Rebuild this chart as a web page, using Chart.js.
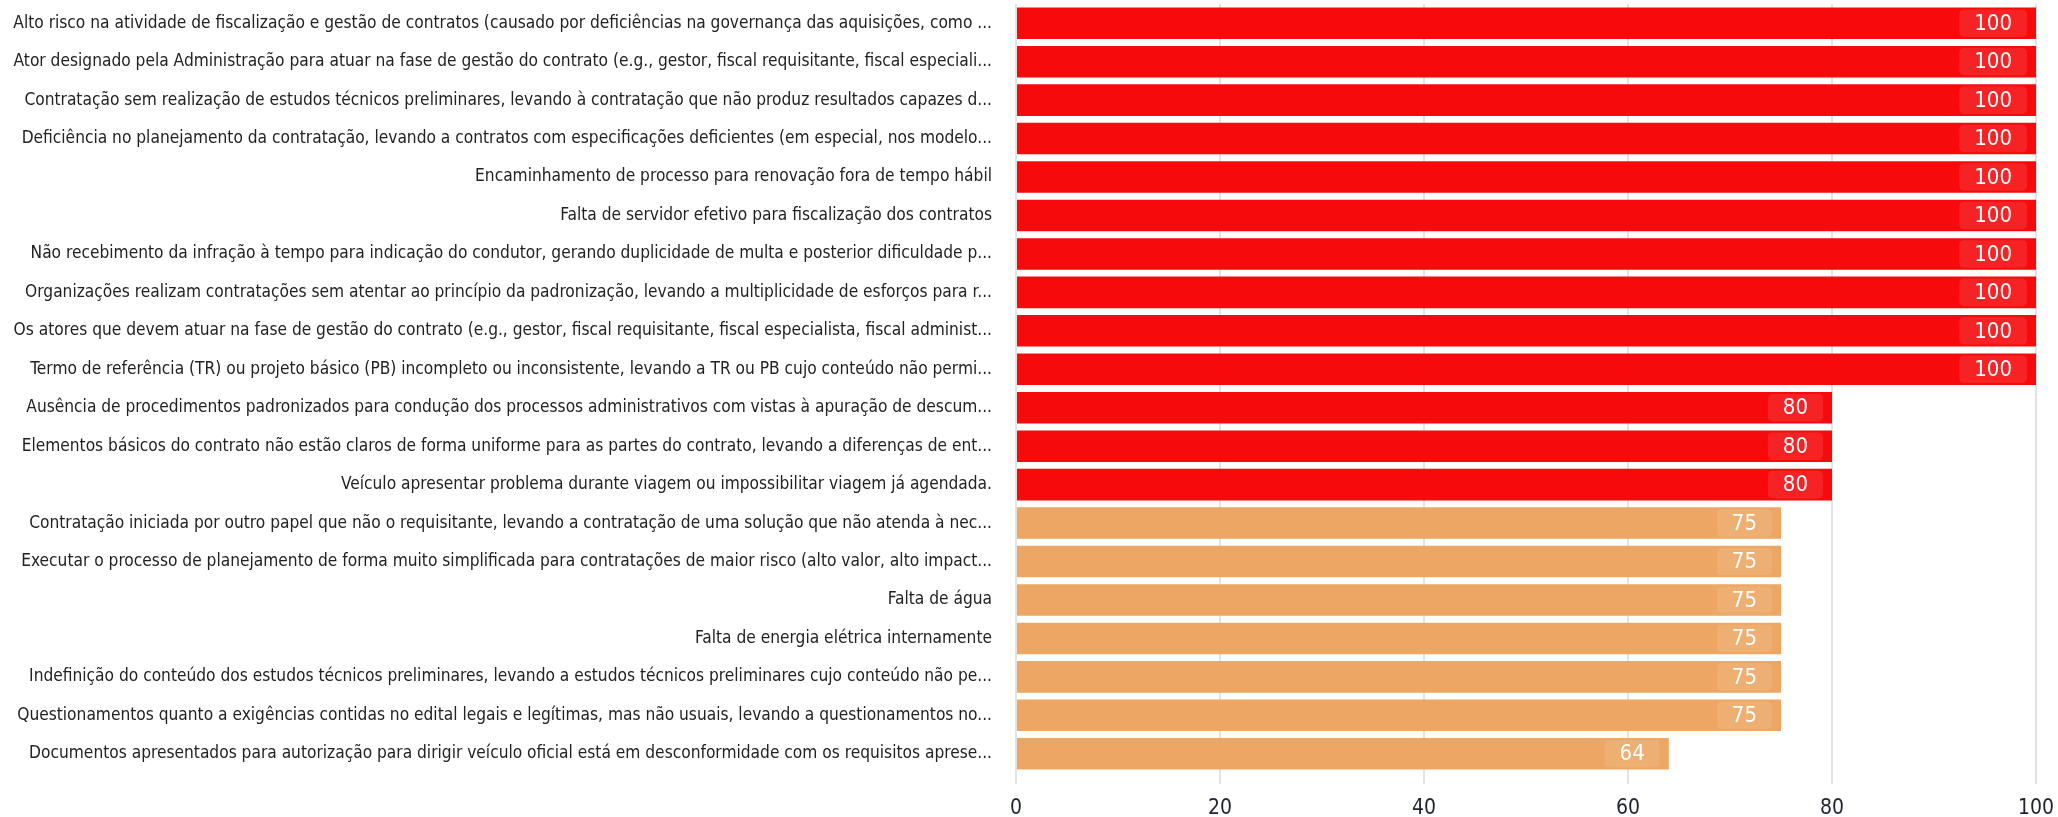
<!DOCTYPE html>
<html>
<head>
<meta charset="utf-8">
<script src="https://cdn.jsdelivr.net/npm/chart.js@4.4.1/dist/chart.umd.min.js"></script>
<style>
  html, body { margin: 0; padding: 0; background: #fff; }
  #wrap { width: 2058px; height: 817px; }
</style>
</head>
<body>
<div id="wrap"><canvas id="riskChart" width="2058" height="817"></canvas></div>
<script>
// Data
const categories = [
  'Alto risco na atividade de fiscalização e gestão de contratos (causado por deficiências na governança das aquisições, como ...',
  'Ator designado pela Administração para atuar na fase de gestão do contrato (e.g., gestor, fiscal requisitante, fiscal especiali...',
  'Contratação sem realização de estudos técnicos preliminares, levando à contratação que não produz resultados capazes d...',
  'Deficiência no planejamento da contratação, levando a contratos com especificações deficientes (em especial, nos modelo...',
  'Encaminhamento de processo para renovação fora de tempo hábil',
  'Falta de servidor efetivo para fiscalização dos contratos',
  'Não recebimento da infração à tempo para indicação do condutor, gerando duplicidade de multa e posterior dificuldade p...',
  'Organizações realizam contratações sem atentar ao princípio da padronização, levando a multiplicidade de esforços para r...',
  'Os atores que devem atuar na fase de gestão do contrato (e.g., gestor, fiscal requisitante, fiscal especialista, fiscal administ...',
  'Termo de referência (TR) ou projeto básico (PB) incompleto ou inconsistente, levando a TR ou PB cujo conteúdo não permi...',
  'Ausência de procedimentos padronizados para condução dos processos administrativos com vistas à apuração de descum...',
  'Elementos básicos do contrato não estão claros de forma uniforme para as partes do contrato, levando a diferenças de ent...',
  'Veículo apresentar problema durante viagem ou impossibilitar viagem já agendada.',
  'Contratação iniciada por outro papel que não o requisitante, levando a contratação de uma solução que não atenda à nec...',
  'Executar o processo de planejamento de forma muito simplificada para contratações de maior risco (alto valor, alto impact...',
  'Falta de água',
  'Falta de energia elétrica internamente',
  'Indefinição do conteúdo dos estudos técnicos preliminares, levando a estudos técnicos preliminares cujo conteúdo não pe...',
  'Questionamentos quanto a exigências contidas no edital legais e legítimas, mas não usuais, levando a questionamentos no...',
  'Documentos apresentados para autorização para dirigir veículo oficial está em desconformidade com os requisitos aprese...'
];
const values = [100, 100, 100, 100, 100, 100, 100, 100, 100, 100, 80, 80, 80, 75, 75, 75, 75, 75, 75, 64];
const xTicks = [0, 20, 40, 60, 80, 100];

const highColor = '#f70a0c';
const midColor = '#eda663';
const barColors = values.map(v => v >= 80 ? highColor : midColor);

const labelFont = '"Liberation Sans Narrow", "DejaVu Sans Condensed", sans-serif';

// value badge at the end of each bar
const valueBadges = {
  id: 'valueBadges',
  afterDatasetsDraw(chart) {
    const ctx = chart.ctx;
    const meta = chart.getDatasetMeta(0);
    ctx.save();
    ctx.font = '22px ' + labelFont;
    ctx.textAlign = 'center';
    ctx.textBaseline = 'middle';
    meta.data.forEach((bar, i) => {
      const txt = String(values[i]);
      const tw = ctx.measureText(txt).width;
      const w = tw + 30;
      const h = bar.height - 4;
      const right = bar.x - 9;
      const left = right - w;
      const top = bar.y - h / 2;
      ctx.fillStyle = 'rgba(255,255,255,0.1)';
      ctx.beginPath();
      ctx.roundRect(left, top, w, h, 5);
      ctx.fill();
      ctx.fillStyle = '#ffffff';
      ctx.fillText(txt, left + w / 2, bar.y + 1);
    });
    ctx.restore();
  }
};

const ctx = document.getElementById('riskChart').getContext('2d');
new Chart(ctx, {
  type: 'bar',
  data: {
    labels: categories,
    datasets: [{
      data: values,
      backgroundColor: barColors,
      borderWidth: 0,
      categoryPercentage: 0.82,
      barPercentage: 1.0
    }]
  },
  options: {
    indexAxis: 'y',
    responsive: false,
    animation: false,
    layout: { padding: { top: 4, right: 22, left: 0, bottom: 0 } },
    plugins: {
      legend: { display: false },
      tooltip: { enabled: false }
    },
    scales: {
      x: {
        min: 0,
        max: 100,
        afterBuildTicks(scale) {
          scale.ticks = xTicks.map(v => ({ value: v }));
        },
        grid: { color: '#e3e3e3', lineWidth: 2, drawTicks: true, tickLength: 11 },
        border: { display: false },
        ticks: {
          font: { family: labelFont, size: 21 },
          color: '#1f2330',
          padding: 12
        },
        afterFit(scale) {
          scale.height = 44;
          scale.paddingLeft = 0;
          scale.paddingRight = 0;
        }
      },
      y: {
        grid: { display: false },
        border: { display: false },
        ticks: {
          font: { family: labelFont, size: 17.2 },
          color: '#222',
          padding: 16,
          autoSkip: false
        },
        afterFit(scale) {
          scale.width = 1016;
          // labels sit beside the bars, no extra room needed above/below
          scale.paddingTop = 0;
          scale.paddingBottom = 0;
        }
      }
    }
  },
  plugins: [valueBadges]
});
</script>
</body>
</html>
